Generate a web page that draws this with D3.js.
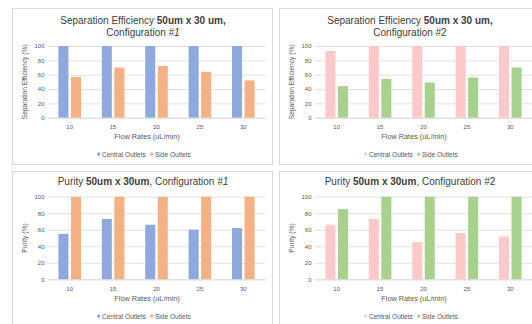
<!DOCTYPE html>
<html>
<head>
<meta charset="utf-8">
<script src="https://cdn.jsdelivr.net/npm/d3@7"></script>
<style>
  html, body { margin: 0; padding: 0; background: #ffffff; }
  svg { display: block; font-family: "Liberation Sans", Arial, sans-serif; }
</style>
</head>
<body>
<svg id="chart" width="532" height="324"></svg>
<script>
// ---------------- data ----------------
const categories = ["10", "15", "20", "25", "30"];
const seriesNames = ["Central Outlets", "Side Outlets"];
const yTicks = [0, 20, 40, 60, 80, 100];

const sepConfig1Central = [100, 100, 100, 100, 100];
const sepConfig1Side    = [57, 70, 72, 64, 52];
const sepConfig2Central = [93, 100, 100, 100, 100];
const sepConfig2Side    = [44, 54, 49, 56, 70];
const purConfig1Central = [55, 73, 66, 60, 62];
const purConfig1Side    = [100, 100, 100, 100, 100];
const purConfig2Central = [66, 73, 45, 56, 52];
const purConfig2Side    = [85, 100, 100, 100, 100];

const xAxisTitle = "Flow Rates (uL/min)";

// ---------------- styles ----------------
const config1Colors = ["#8eaadc", "#f4b183"];
const config2Colors = ["#ffc9c9", "#a9d18e"];
const textColor = "#595959";
const titleColor = "#404040";
const gridColor = "#d9d9d9";

const svg = d3.select("#chart");

const panels = [
  { x: 12, y: 8, top: true,
    title: [[["Separation Efficiency ", "normal", "normal"], ["50um x 30 um,", "bold", "normal"]],
            [["Configuration ", "normal", "normal"], ["#1", "normal", "italic"]]],
    yLabel: "Separation Efficiency (%)",
    series: [sepConfig1Central, sepConfig1Side], colors: config1Colors },
  { x: 279, y: 8, top: true,
    title: [[["Separation Efficiency ", "normal", "normal"], ["50um x 30 um,", "bold", "normal"]],
            [["Configuration #2", "normal", "normal"]]],
    yLabel: "Separation Efficiency (%)",
    series: [sepConfig2Central, sepConfig2Side], colors: config2Colors },
  { x: 12, y: 171, top: false,
    title: [[["Purity ", "normal", "normal"], ["50um x 30um", "bold", "normal"],
             [", Configuration ", "normal", "normal"], ["#1", "normal", "italic"]]],
    yLabel: "Purity (%)",
    series: [purConfig1Central, purConfig1Side], colors: config1Colors },
  { x: 279, y: 171, top: false,
    title: [[["Purity ", "normal", "normal"], ["50um x 30um", "bold", "normal"],
             [", Configuration #2", "normal", "normal"]]],
    yLabel: "Purity (%)",
    series: [purConfig2Central, purConfig2Side], colors: config2Colors }
];

const panelW = 260, panelH = 156;

panels.forEach(p => {
  const g = svg.append("g").attr("transform", `translate(${p.x},${p.y})`);

  // panel frame
  g.append("rect")
    .attr("x", 0.5).attr("y", 0.5)
    .attr("width", panelW).attr("height", p.top ? panelH : 170)
    .attr("fill", "#ffffff").attr("stroke", gridColor).attr("stroke-width", 1);

  // vertical layout (relative to panel top)
  const L = p.top
    ? { titleY: [15.8, 28.4], plotTop: 38, plotBottom: 109.7, xTitleY: 130.6, legendY: 148.6 }
    : { titleY: [14.4], plotTop: 25.7, plotBottom: 108.3, xTitleY: 130.2, legendY: 147.6 };

  const plotLeft = 36, plotW = 217;

  // title
  p.title.forEach((line, i) => {
    const t = g.append("text")
      .attr("x", panelW / 2 + 1)
      .attr("y", L.titleY[i])
      .attr("text-anchor", "middle")
      .attr("font-size", 10)
      .attr("fill", titleColor);
    line.forEach(([txt, weight, style]) => {
      t.append("tspan").text(txt).attr("font-weight", weight).attr("font-style", style);
    });
  });

  // scales
  const x0 = d3.scaleBand().domain(categories)
    .range([plotLeft, plotLeft + plotW]).paddingInner(0.48).paddingOuter(0.24);
  const x1 = d3.scaleBand().domain(seriesNames)
    .range([0, x0.bandwidth()]).paddingInner(0.2);
  const y = d3.scaleLinear().domain([0, 100]).range([L.plotBottom, L.plotTop]);

  // y axis with gridlines
  const yAxis = g.append("g")
    .attr("transform", `translate(${plotLeft},0)`)
    .call(d3.axisLeft(y).tickValues(yTicks).tickSize(-plotW).tickPadding(3.5));
  yAxis.select(".domain").remove();
  yAxis.selectAll(".tick line").attr("stroke", gridColor).attr("stroke-width", 0.8);
  yAxis.selectAll(".tick text")
    .attr("fill", textColor).attr("font-size", 6)
    .attr("font-family", "Liberation Sans, Arial, sans-serif");

  // bars
  seriesNames.forEach((s, si) => {
    g.append("g").selectAll("rect")
      .data(p.series[si])
      .join("rect")
      .attr("x", (d, i) => x0(categories[i]) + x1(s))
      .attr("y", d => y(d))
      .attr("width", x1.bandwidth())
      .attr("height", d => y(0) - y(d))
      .attr("fill", p.colors[si]);
  });

  // x axis
  const xAxis = g.append("g")
    .attr("transform", `translate(0,${L.plotBottom})`)
    .call(d3.axisBottom(x0).tickSize(0).tickPadding(7));
  xAxis.select(".domain").attr("stroke", gridColor).attr("stroke-width", 0.8);
  xAxis.selectAll(".tick text")
    .attr("fill", textColor).attr("font-size", 6)
    .attr("font-family", "Liberation Sans, Arial, sans-serif");

  // x axis title
  g.append("text")
    .attr("x", panelW / 2 + 5)
    .attr("y", L.xTitleY)
    .attr("text-anchor", "middle")
    .attr("font-size", 7.3)
    .attr("fill", textColor)
    .text(xAxisTitle);

  // y axis title
  g.append("text")
    .attr("transform", `translate(${15.2},${(L.plotTop + L.plotBottom) / 2}) rotate(-90)`)
    .attr("text-anchor", "middle")
    .attr("font-size", 6.7)
    .attr("fill", textColor)
    .text(p.yLabel);

  // legend
  const leg = g.append("g");
  let cx = 0;
  const mk = 3, gapMarker = 1.8, gapItem = 4.2;
  seriesNames.forEach((s, si) => {
    leg.append("rect")
      .attr("x", cx).attr("y", L.legendY - 4)
      .attr("width", mk).attr("height", mk)
      .attr("fill", p.colors[si]);
    cx += mk + gapMarker;
    const t = leg.append("text")
      .attr("x", cx).attr("y", L.legendY)
      .attr("font-size", 6.6)
      .attr("fill", textColor)
      .text(s);
    cx += t.node().getComputedTextLength() + gapItem;
  });
  const legW = cx - gapItem;
  leg.attr("transform", `translate(${panelW / 2 + 2 - legW / 2},0)`);
});
</script>
</body>
</html>
